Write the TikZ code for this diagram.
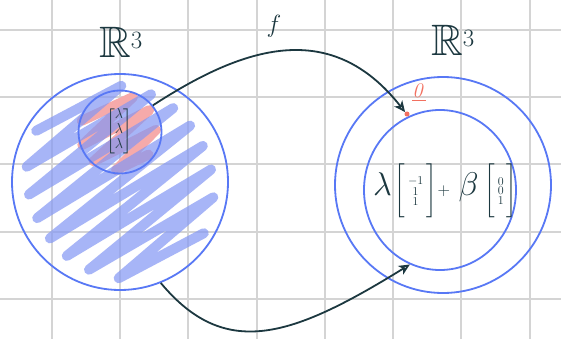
\documentclass[tikz,border=0pt]{standalone}
\usepackage{amsmath,amssymb}
\usetikzlibrary{arrows.meta,shapes.geometric}
\definecolor{gridgray}{RGB}{212,212,212}
\definecolor{ringblue}{RGB}{88,120,245}
\definecolor{scrblue}{RGB}{131,151,244}
\definecolor{scrpink}{RGB}{246,170,170}
\definecolor{ink}{RGB}{28,56,64}
\definecolor{zred}{RGB}{242,112,96}
\tikzset{
  gridline/.style={gridgray,line width=1.2pt},
  ring/.style={circle,draw=ringblue,line width=1.8pt,inner sep=0pt},
  ringell/.style={ellipse,draw=ringblue,line width=1.8pt,inner sep=0pt},
  scribble/.style={line width=10pt,line cap=round,line join=round},
  mapsto/.style={ink,line width=1.8pt,-{Stealth[open,length=11pt,width=10pt,inset=3pt]}},
  lbl/.style={ink,inner sep=0pt},
}
\begin{document}
\begin{tikzpicture}[x=1pt,y=-1pt]
\useasboundingbox[fill=white] (0,0) rectangle (561,339);
% grid
\foreach \x in {52,120,188,257,325,393,461,530} \draw[gridline] (\x,0) -- (\x,339);
\foreach \y in {30,97,164,232,299} \draw[gridline] (0,\y) -- (561,\y);
% scribbles
\draw[scribble,scrpink] (81.7,120.8) -- (133,97.1) -- (82.3,144.9) -- (149.1,110.2) -- (93.7,161.3) -- (156,129.9) -- (116.1,170) -- (148.5,154.6);
\draw[scribble,scrblue,opacity=0.7] (36.2,130.8) -- (121.3,85.8) -- (26.7,166.7) -- (151,94.3) -- (29,194.5) -- (173.2,108.1) -- (37.2,218.1) -- (190.1,125.6) -- (49.9,238.4) -- (202.8,145.9) -- (66.8,255.9) -- (211,169.5) -- (89,269.7) -- (213.3,197.3) -- (118.7,278.2) -- (203.8,233.2);
% rings
\node[ring,minimum size=216pt] (bigL) at (120,182) {};
\node[ring,minimum size=83pt] (smallL) at (120,132) {};
\node[ring,minimum size=216pt] (bigR) at (443,185) {};
\node[ringell,minimum width=152pt,minimum height=160pt] (smallR) at (440,190) {};
% origin dot and label
\node[circle,fill=zred,inner sep=0pt,minimum size=5pt] (zero) at (407,114) {};
\node[zred,inner sep=0pt,font=\fontsize{20}{20}\selectfont] (zlbl) at (419,93) {$\underline{\mathit{0}}$};
% labels
\node[lbl,font=\fontsize{44}{44}\selectfont] (R1) at (121,42) {$\mathbb{R}^{3}$};
\node[lbl,font=\fontsize{44}{44}\selectfont] (R2) at (453,40) {$\mathbb{R}^{3}$};
\node[lbl,font=\fontsize{50}{50}\selectfont] (f) at (274,26) {$f$};
\node[lbl,font=\fontsize{15}{15}\selectfont] (v) at (119,131) {$\left[\begin{matrix}\lambda\\\lambda\\\lambda\end{matrix}\right]$};
\node[lbl,font=\fontsize{18}{18}\selectfont] (span) at (445,191) {$\scalebox{1.9}{$\lambda$}\left[\begin{smallmatrix}-1\\1\\1\end{smallmatrix}\rule[-21pt]{0pt}{44pt}\right]\!+\;\scalebox{1.9}{$\beta$}\,\left[\begin{smallmatrix}0\\0\\1\end{smallmatrix}\rule[-21pt]{0pt}{44pt}\right]$};
% arrows
\draw[mapsto] (smallL.39) .. controls (244,46) and (331,18) .. (zero.north west);
\draw[mapsto] (bigL.-68) .. controls (225,360) and (291,338) .. (smallR.-112);
\end{tikzpicture}
\end{document}
